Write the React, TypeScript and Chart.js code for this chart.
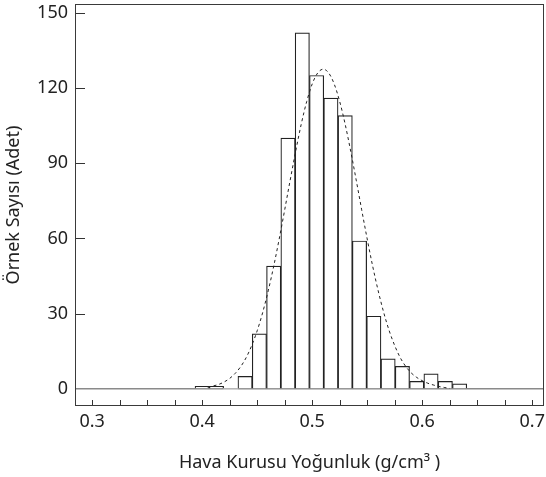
import { useEffect, useRef } from "react";
import { Chart, registerables } from "chart.js";

Chart.register(...registerables);

// Histogram bins (bin centres) and counts
const binCenters = [0.400, 0.413, 0.426, 0.439, 0.452, 0.465, 0.478, 0.491, 0.504, 0.517, 0.530, 0.543, 0.556, 0.569, 0.582, 0.595, 0.608, 0.621, 0.634];
const binCounts = [1, 1, 0, 5, 22, 49, 100, 142, 125, 116, 109, 59, 29, 12, 9, 3, 6, 3, 2];

// Fitted normal curve (dashed)
const curveX = [0.405, 0.410, 0.415, 0.420, 0.425, 0.430, 0.435, 0.440, 0.445, 0.450, 0.455, 0.460, 0.465, 0.470, 0.475, 0.480, 0.485, 0.490, 0.495, 0.500, 0.505, 0.510, 0.515, 0.520, 0.525, 0.530, 0.535, 0.540, 0.545, 0.550, 0.555, 0.560, 0.565, 0.570, 0.575, 0.580, 0.585, 0.590, 0.595, 0.600, 0.605, 0.610, 0.615, 0.620, 0.625];
const curveY = [0.7, 1.2, 1.8, 2.8, 4.2, 6.2, 8.9, 12.5, 17.3, 23.2, 30.5, 39.1, 48.9, 59.8, 71.4, 83.3, 94.8, 105.5, 114.6, 121.6, 126.0, 127.5, 126.0, 121.6, 114.6, 105.5, 94.8, 83.3, 71.4, 59.8, 48.9, 39.1, 30.5, 23.2, 17.3, 12.5, 9.0, 6.4, 4.6, 3.3, 2.3, 1.6, 1.0, 0.6, 0.2];

// Axis ticks
const xTickValues = [0.3, 0.325, 0.35, 0.375, 0.4, 0.425, 0.45, 0.475, 0.5, 0.525, 0.55, 0.575, 0.6, 0.625, 0.65, 0.675, 0.7];
const xLabelValues = [0.3, 0.4, 0.5, 0.6, 0.7];
const yTickValues = [0, 30, 60, 90, 120, 150];

const xTitle = "Hava Kurusu Yoğunluk (g/cm³ )";
const yTitle = "Örnek Sayısı (Adet)";

const FONT = "'Noto Sans', 'DejaVu Sans', sans-serif";

const framePlugin = {
  id: "frameTicks",
  afterDatasetsDraw(chart: any) {
    const { ctx, chartArea: a, scales } = chart;
    const x = scales.x;
    const y = scales.y;
    ctx.save();
    ctx.strokeStyle = "#333";
    ctx.lineWidth = 1;
    ctx.beginPath();
    xTickValues.forEach((v) => {
      const px = Math.round(x.getPixelForValue(v)) + 0.5;
      ctx.moveTo(px, a.bottom);
      ctx.lineTo(px, a.bottom - 6);
    });
    yTickValues.forEach((v) => {
      if (v === 0) return;
      const py = Math.round(y.getPixelForValue(v)) + 0.5;
      ctx.moveTo(a.left, py);
      ctx.lineTo(a.left + 10, py);
    });
    ctx.stroke();
    ctx.strokeStyle = "#3a3a3a";
    ctx.strokeRect(Math.round(a.left) + 0.5, Math.round(a.top) + 0.5, Math.round(a.right - a.left) - 1, Math.round(a.bottom - a.top) - 1);
    ctx.restore();
  },
};

export default function App() {
  const ref = useRef<HTMLCanvasElement | null>(null);

  useEffect(() => {
    if (!ref.current) return;
    const chart = new Chart(ref.current, {
      type: "bar",
      data: {
        datasets: [
          {
            type: "line",
            data: curveX.map((v, i) => ({ x: v, y: curveY[i] })),
            borderColor: "#222",
            borderWidth: 1,
            borderDash: [3, 3],
            pointRadius: 0,
            fill: false,
            cubicInterpolationMode: "monotone",
            order: 0,
          } as any,
          {
            type: "bar",
            data: binCenters.map((v, i) => ({ x: v, y: binCounts[i] })),
            backgroundColor: "#ffffff",
            borderColor: "#222",
            borderWidth: (c: any) => (c.raw && c.raw.y === 0 ? 0 : 1.2),
            barPercentage: 1,
            categoryPercentage: 1,
            order: 1,
          } as any,
        ],
      },
      options: {
        animation: false,
        responsive: false,
        devicePixelRatio: 1,
        layout: { padding: { top: 4, right: 2, left: 0, bottom: 0 } },
        plugins: { legend: { display: false }, tooltip: { enabled: false } },
        scales: {
          x: {
            type: "linear",
            offset: false,
            min: 0.2844,
            max: 0.7107,
            afterBuildTicks: (s: any) => {
              s.ticks = xTickValues.map((v) => ({ value: v }));
            },
            afterFit: (s: any) => {
              s.height = 71;
              s.paddingLeft = 0;
              s.paddingRight = 0;
            },
            grid: { display: false, drawTicks: false, offset: false },
            border: { display: false },
            ticks: {
              autoSkip: false,
              maxRotation: 0,
              padding: 5,
              color: "#222",
              font: { family: FONT, size: 18 },
              callback: (v: any) => {
                const n = Number(v);
                const hit = xLabelValues.find((l) => Math.abs(l - n) < 1e-6);
                return hit === undefined ? "" : hit.toFixed(1);
              },
            },
            title: {
              display: true,
              text: xTitle,
              color: "#222",
              font: { family: FONT, size: 18 },
              padding: { top: 0, bottom: 3 },
            },
          },
          y: {
            min: -6.8,
            max: 153.5,
            afterBuildTicks: (s: any) => {
              s.ticks = yTickValues.map((v) => ({ value: v }));
            },
            afterFit: (s: any) => {
              s.width = 75;
              s.paddingTop = 0;
              s.paddingBottom = 0;
            },
            grid: {
              drawTicks: false,
              color: (c: any) => (c.tick && c.tick.value === 0 ? "#8a8a8a" : "rgba(0,0,0,0)"),
              lineWidth: 1.5,
            },
            border: { display: false },
            ticks: {
              padding: 7,
              color: "#222",
              font: { family: FONT, size: 18 },
            },
            title: {
              display: true,
              text: yTitle,
              color: "#222",
              font: { family: FONT, size: 18 },
              padding: { top: 3, bottom: 0 },
            },
          },
        },
      },
      plugins: [framePlugin],
    });
    return () => chart.destroy();
  }, []);

  return (
    <div style={{ position: "absolute", left: 0, top: 0, width: 546, height: 477, background: "#fff" }}>
      <canvas ref={ref} width={546} height={477} style={{ display: "block", width: 546, height: 477 }} />
    </div>
  );
}
